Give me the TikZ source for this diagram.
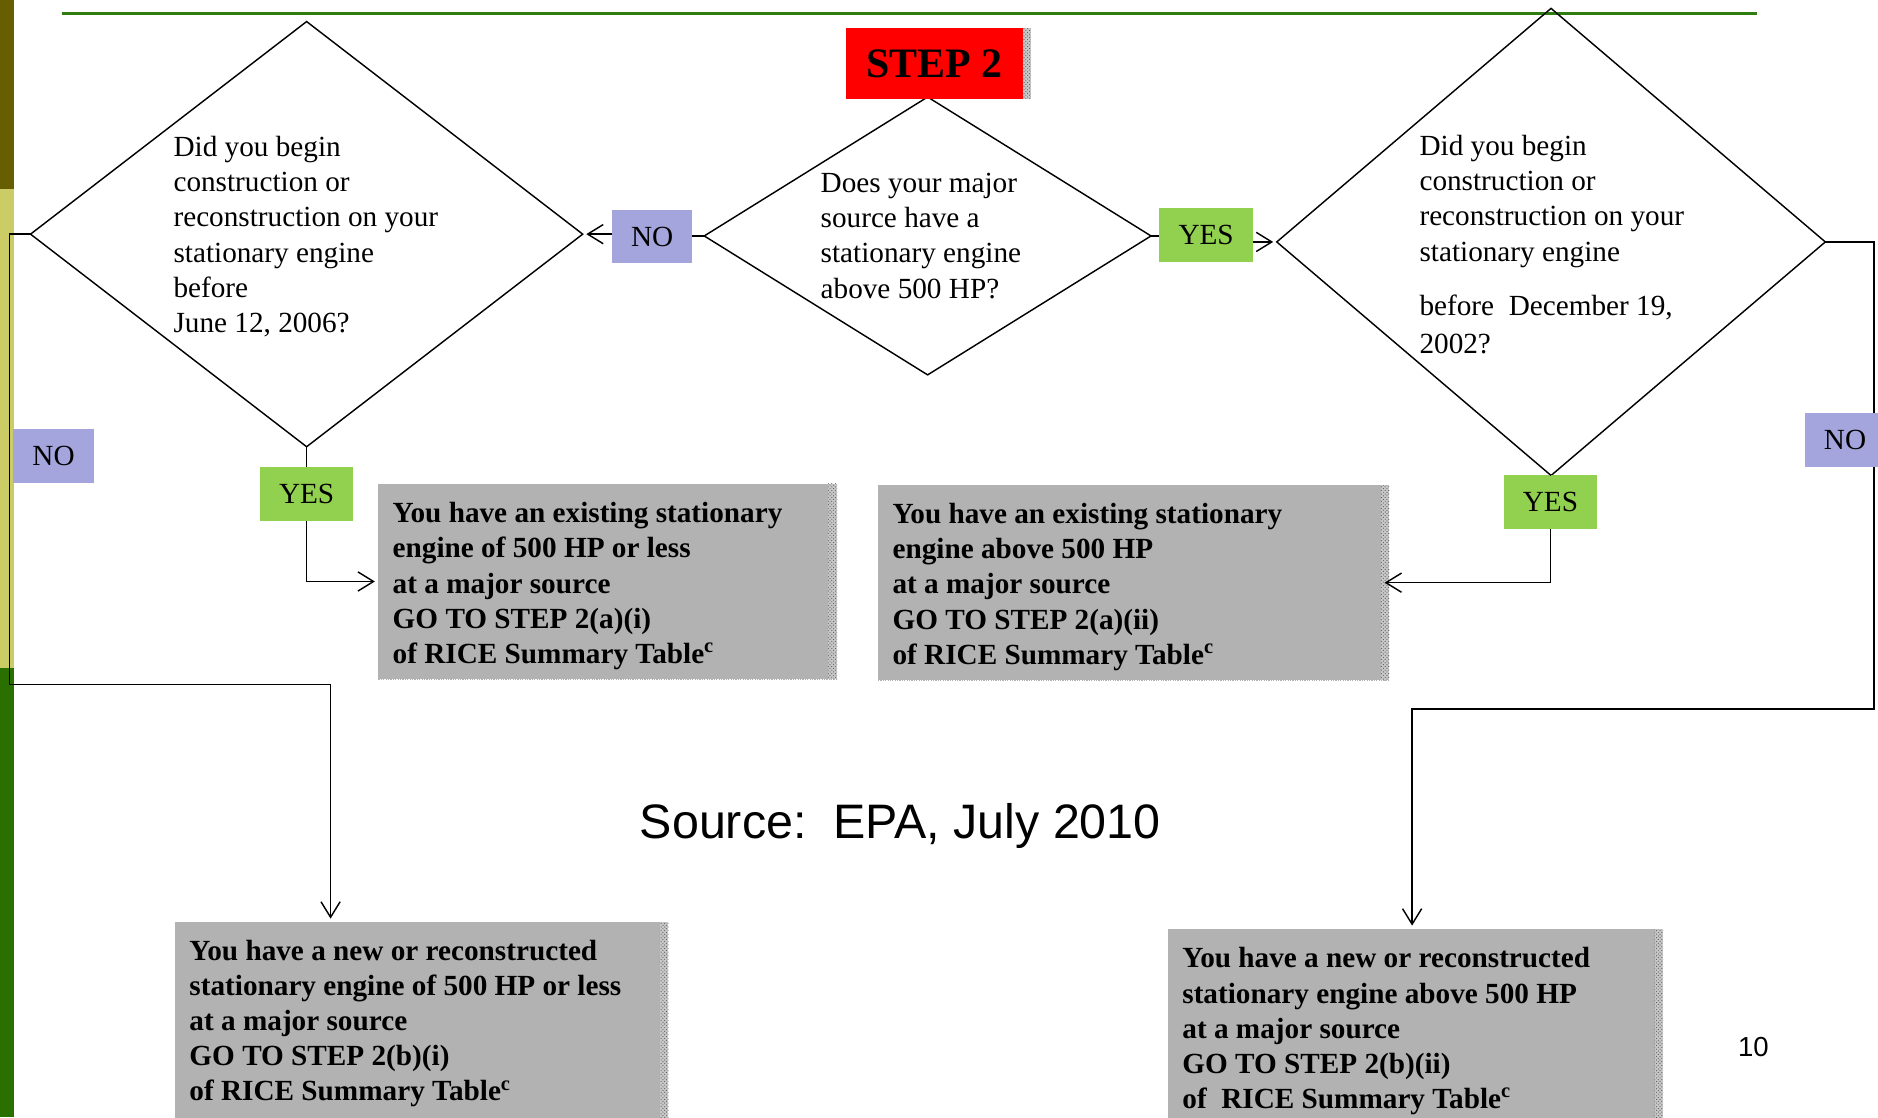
\documentclass[tikz,border=0pt]{standalone}
\usepackage{fontspec}
\setmainfont{Liberation Serif}
\newfontfamily\arialf{Liberation Sans}
\usetikzlibrary{shapes.geometric,arrows.meta,patterns}

\definecolor{stepred}{RGB}{255,0,0}
\definecolor{nocol}{RGB}{165,165,222}
\definecolor{yescol}{RGB}{146,208,80}
\definecolor{boxgray}{RGB}{178,178,178}
\definecolor{topgreen}{RGB}{46,125,14}
\definecolor{barA}{RGB}{102,94,0}
\definecolor{barB}{RGB}{204,204,102}
\definecolor{barC}{RGB}{42,112,0}
\definecolor{stripgray}{RGB}{200,200,200}

\begin{document}
\begin{tikzpicture}[x=1pt,y=-1pt,
  conn/.style={line width=1.2pt, line join=miter},
  arr/.style={conn, -{Straight Barb[length=13pt,width=16pt]}, shorten >=3pt},
  qbox/.style={diamond, draw, line width=1.2pt, inner sep=0pt, outer sep=0pt},
  lbl/.style={inner sep=0pt, outer sep=0pt, minimum height=45pt, font=\fontsize{24.4}{29.6}\selectfont},
  nolbl/.style={lbl, fill=nocol, minimum width=67pt},
  yeslbl/.style={lbl, fill=yescol, minimum width=78pt},
  qtext/.style={anchor=north west, inner sep=0pt, align=left, font=\fontsize{24.4}{29.5}\selectfont},
  rtext/.style={anchor=north west, inner sep=0pt, align=left, font=\fontsize{24.4}{29.4}\selectfont\bfseries},
  gbox/.style={fill=boxgray, inner sep=0pt, outer sep=0pt, anchor=north west},
  strip/.style={preaction={fill=stripgray}, pattern=crosshatch dots, pattern color=gray!70!black}
]
\useasboundingbox (0,0) rectangle (1568,933);
% left decorative bar
\fill[barA] (0,0) rectangle (11.7,158);
\fill[barB] (0,158) rectangle (11.7,558);
\fill[barC] (0,558) rectangle (11.7,933);
% top green rule
\draw[topgreen, line width=2.5pt] (51.5,11.3) -- (1467,11.3);

% decision diamonds
\node[qbox, minimum width=461pt, minimum height=355pt] (dL) at (256,195.5) {};
\node[qbox, minimum width=373pt, minimum height=232pt] (dC) at (774.5,197) {};
\node[qbox, minimum width=458pt, minimum height=390pt] (dR) at (1295,202) {};

% labels
\node[nolbl] (NOc) at (544.5,197.5) {NO};
\node[yeslbl] (YESc) at (1007,196.5) {YES};
\node[yeslbl] (YESl) at (256,412.5) {YES};
\node[yeslbl, minimum width=77pt] (YESr) at (1294.5,419.5) {YES};

% result boxes
\node[gbox, minimum width=383pt, minimum height=163pt] (g1) at (316,404) {};
\node[gbox, minimum width=427pt, minimum height=163pt] (g2) at (733,405) {};
\node[gbox, minimum width=412pt, minimum height=175pt] (g3) at (146,770) {};
\node[gbox, minimum width=413pt, minimum height=170pt] (g4) at (975.5,775.8) {};
\fill[strip] ([xshift=-7.5pt]g1.north east) rectangle (g1.south east);
\fill[strip] ([xshift=-7pt]g2.north east) rectangle (g2.south east);
\fill[strip] ([xshift=-7pt]g3.north east) rectangle (g3.south east);
\fill[strip] ([xshift=-7pt]g4.north east) rectangle (g4.south east);
\draw[gray!60, densely dotted, line width=1pt] (g1.south west) -- (g1.south east);
\draw[gray!60, densely dotted, line width=1pt] (g2.south west) -- (g2.south east);

% connectors
\coordinate (cL1) at (8,571.5);
\coordinate (cL2) at (276,571.5);
\coordinate (cR1) at (1564.7,592);
\coordinate (cR2) at (1179,592);
\draw[conn] (dC.west) -- (dC.west -| NOc.east);
\draw[arr] (NOc.west |- dL.east) -- (dL.east);
\draw[conn] (dC.east) -- (dC.east -| YESc.west);
\draw[arr] (YESc.east |- dR.west) -- (dR.west);
\draw[conn] (dL.south) -- (YESl.north);
\draw[arr] (YESl.south) |- (g1.west);
\draw[conn] (dR.south) -- (YESr.north);
\draw[arr, shorten >=-4pt] (YESr.south) |- (g2.east);
\draw[arr] (dL.west) -| (cL1) -- (cL2) -- (cL2 |- g3.north);
\draw[arr] (dR.east) -| (cR1) -- (cR2) -- (cR2 |- g4.north);

\node[nolbl, minimum width=67.5pt] (NOl) at (44.7,381) {NO};
\node[nolbl] (NOr) at (1540.5,367) {NO};

% STEP 2 header
\node[fill=stepred, minimum width=148pt, minimum height=59pt, inner sep=0pt, outer sep=0pt, anchor=north west,
      font=\fontsize{35}{42}\selectfont\bfseries] (step) at (706.4,23.4) {STEP 2};
\fill[strip] (step.north east) rectangle ([xshift=6.4pt]step.south east);

% question texts
\node[qtext] (tL) at (144.7,109.6) {\strut Did you begin\\construction or\\reconstruction on your\\stationary engine\\before\\June 12, 2006?};
\node[qtext] (tC) at (685,139.6) {\strut Does your major\\source have a\\stationary engine\\above 500 HP?};
\node[qtext] (tR) at (1185,108.7) {\strut Did you begin\\construction or\\reconstruction on your\\stationary engine\\[16pt]before\ \ December 19,\\[2pt]2002?};

% result texts
\node[rtext] (r1) at (327.7,415.6) {\strut You have an existing stationary\\engine of 500 HP or less\\at a major source\\GO TO STEP 2(a)(i)\\of RICE Summary Table\textsuperscript{c}};
\node[rtext] (r2) at (745,416.3) {\strut You have an existing stationary\\engine above 500 HP\\at a major source\\GO TO STEP 2(a)(ii)\\of RICE Summary Table\textsuperscript{c}};
\node[rtext] (r3) at (158,780.8) {\strut You have a new or reconstructed\\stationary engine of 500 HP or less\\at a major source\\GO TO STEP 2(b)(i)\\of RICE Summary Table\textsuperscript{c}};
\node[rtext] (r4) at (987,787.3) {\strut You have a new or reconstructed\\stationary engine above 500 HP\\at a major source\\GO TO STEP 2(b)(ii)\\of\ \ RICE Summary Table\textsuperscript{c}};

% source and page number
\node[anchor=base west, inner sep=0pt, font=\arialf\fontsize{40.4}{48}\selectfont] (src) at (534,700) {Source:\ \ EPA, July 2010};
\node[anchor=base, inner sep=0pt, font=\arialf\fontsize{23}{28}\selectfont] (pg) at (1464,882) {10};
\end{tikzpicture}
\end{document}
